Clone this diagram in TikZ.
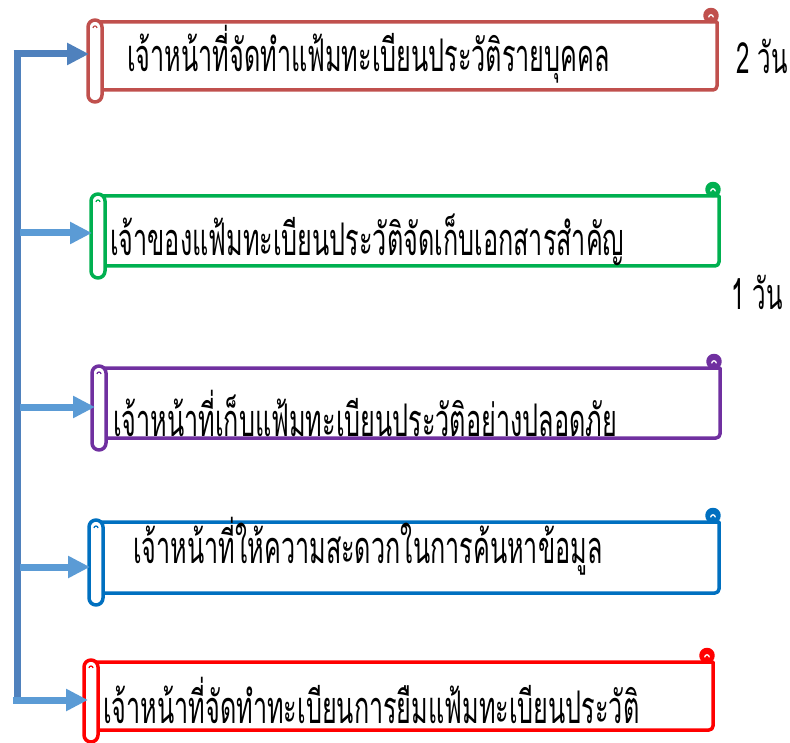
\documentclass[tikz,border=0pt]{standalone}
\usepackage{fontspec}
\newfontfamily\thai[Script=Thai,FakeStretch=0.56]{Loma}
\usetikzlibrary{arrows.meta}
\definecolor{c1}{HTML}{C0504D}
\definecolor{c2}{HTML}{00B050}
\definecolor{c3}{HTML}{7030A0}
\definecolor{c4}{HTML}{0070C0}
\definecolor{c5}{HTML}{FF0000}
\definecolor{trunkc}{HTML}{4F81BD}
\definecolor{branchc}{HTML}{5B9BD5}
\tikzset{
  scrollline/.style={line width=3.5pt, line join=round, line cap=round},
  label/.style={anchor=west, inner sep=0pt, font=\thai\fontsize{45}{50}\selectfont},
  daylabel/.style={anchor=west, inner sep=0pt, font=\thai\fontsize{43}{50}\selectfont},
  trunk/.style={draw=trunkc, line width=7pt},
  branch/.style={draw=branchc, line width=7pt, -{Triangle[length=22pt,width=21pt]}},
}
% #1 name, #2 left, #3 top, #4 right, #5 bottom, #6 colour
\newcommand\scrollbox[6]{%
  \draw[scrollline, draw=#6, fill=white] ({#2+12},#3) -- ({#4},#3) -- ({#4},{#5-4}) arc[start angle=0,end angle=90,radius=4] -- ({#2+12},#5);
  \draw[scrollline, draw=#6, fill=#6] ({#4-6},{#3-6.5}) circle[radius=6];
  \draw[line width=1.3pt, draw=white, line cap=round] ({#4-8.2},{#3-5}) arc[start angle=180,end angle=360,radius=2.2];
  \draw[scrollline, draw=#6, fill=white, rounded corners=7] (#2,{#3-2}) rectangle ({#2+14},{#5+12});
  \draw[line width=1.2pt, draw=#6] ({#2+5},{#3+6}) arc[start angle=180,end angle=360,radius=2];
  \coordinate (#1) at (#2,{(#3+#5)/2});
}
\begin{document}
\begin{tikzpicture}[x=1pt,y=-1pt]
\useasboundingbox (0,0) rectangle (790,743);
\scrollbox{s1}{88}{22}{717}{90}{c1}
\scrollbox{s2}{91}{196}{719}{266}{c2}
\scrollbox{s3}{92}{368}{720}{438}{c3}
\scrollbox{s4}{89}{522}{719}{593}{c4}
\scrollbox{s5}{84}{662}{713}{730}{c5}

\node[label] (n1) at (127,54) {เจ้าหน้าที่จัดทำแฟ้มทะเบียนประวัติรายบุคคล};
\node[label] (n2) at (110,240) {เจ้าของแฟ้มทะเบียนประวัติจัดเก็บเอกสารสำคัญ};
\node[label] (n3) at (113,413) {เจ้าหน้าที่เก็บแฟ้มทะเบียนประวัติอย่างปลอดภัย};
\node[label] (n4) at (133,546) {เจ้าหน้าที่ให้ความสะดวกในการค้นหาข้อมูล};
\node[label] (n5) at (103,700) {เจ้าหน้าที่จัดทำทะเบียนการยืมแฟ้มทะเบียนประวัติ};
\node[daylabel] (d2) at (736,56) {2 วัน};
\node[daylabel] (d1) at (731,292) {1 วัน};

\coordinate (a1) at (89,54);
\coordinate (a2) at (92,233);
\coordinate (a3) at (95,407);
\coordinate (a4) at (90,567);
\coordinate (a5) at (88,700);
\coordinate (tt) at (17,54);
\coordinate (tb) at (17,700);
\coordinate (b2) at (20,233);
\coordinate (b3) at (20,407);
\coordinate (b4) at (20,567);
\coordinate (b5) at (13,700);

\draw[trunk] (tb) -- (tt);
\draw[trunk, -{Triangle[length=22pt,width=21pt]}] ([xshift=-3.5pt]tt) -- (a1);
\draw[branch] (b2) -- (a2);
\draw[branch] (b3) -- (a3);
\draw[branch] (b4) -- (a4);
\draw[branch] (b5) -- (a5);
\end{tikzpicture}
\end{document}
